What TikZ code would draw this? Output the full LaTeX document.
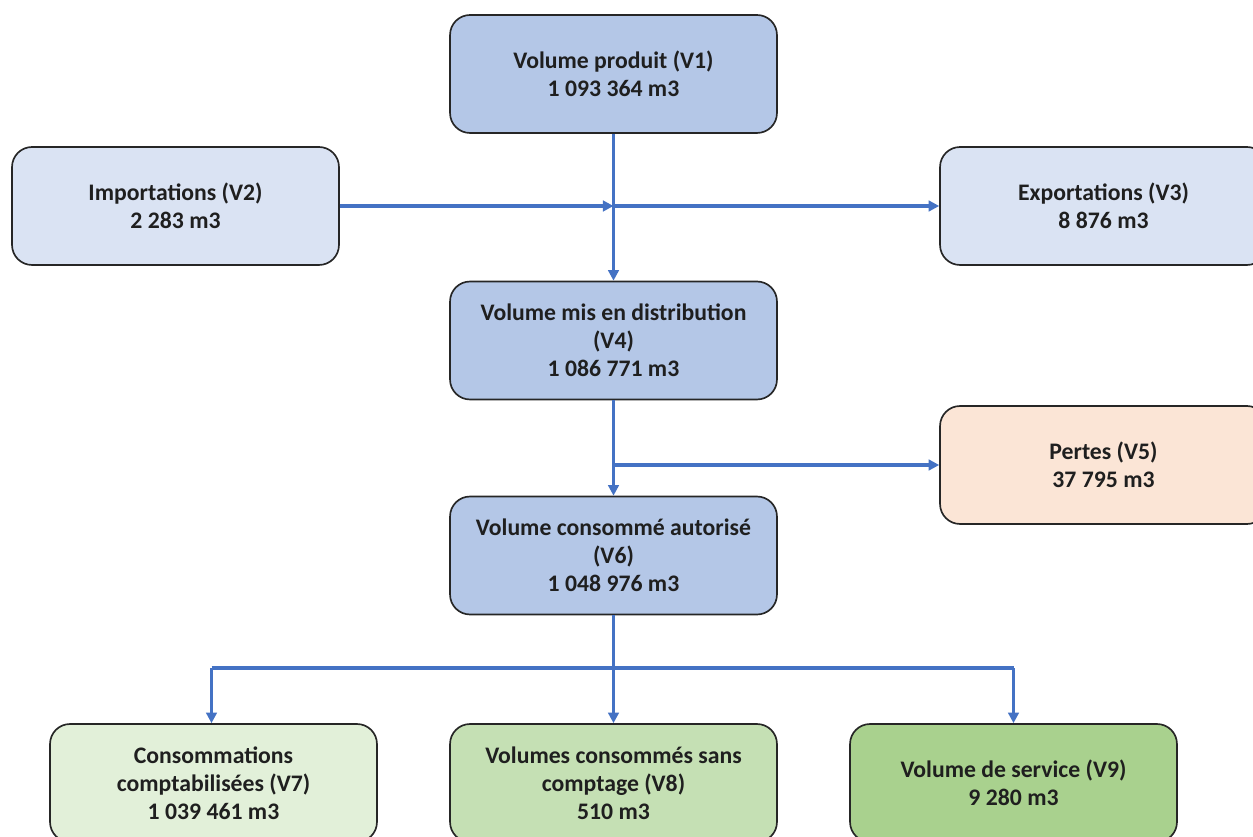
\documentclass[tikz,border=0pt]{standalone}
\usepackage{fontspec}
\setmainfont{Carlito}
\usetikzlibrary{arrows.meta}
\definecolor{bluedark}{HTML}{B4C7E7}
\definecolor{bluelight}{HTML}{DAE3F3}
\definecolor{peach}{HTML}{FBE5D6}
\definecolor{greenA}{HTML}{E2F0D9}
\definecolor{greenB}{HTML}{C5E0B4}
\definecolor{greenC}{HTML}{A9D18E}
\definecolor{arrowblue}{HTML}{4472C4}
\definecolor{edgegray}{HTML}{262626}
\tikzset{
  box/.style={draw=edgegray, line width=0.95pt, rounded corners=0.4cm,
    minimum width=6.54cm, minimum height=2.36cm, align=center,
    text=black!88, font=\fontsize{13.5}{15.9}\selectfont\bfseries, inner sep=0pt},
  flow/.style={draw=arrowblue, line width=1.9pt, -{Triangle[length=6pt,width=6pt]}},
  plain/.style={draw=arrowblue, line width=1.9pt}
}
\begin{document}
\begin{tikzpicture}[x=0.02cm,y=-0.02cm]
\useasboundingbox (0,0) rectangle (1253,837);
\fill[white] (0,0) rectangle (1253,837);
\node[box, fill=bluedark] (v1) at (613.5,74) {Volume produit (V1)\\1 093 364 m3};
\node[box, fill=bluelight] (v2) at (175.5,206) {Importations (V2)\\2 283 m3};
\node[box, fill=bluelight] (v3) at (1103.5,206) {Exportations (V3)\\8 876 m3};
\node[box, fill=bluedark] (v4) at (613.5,340.5) {Volume mis en distribution\\(V4)\\1 086 771 m3};
\node[box, fill=peach] (v5) at (1103.5,465) {Pertes (V5)\\37 795 m3};
\node[box, fill=bluedark] (v6) at (613.5,555.5) {Volume consommé autorisé\\(V6)\\1 048 976 m3};
\node[box, fill=greenA] (v7) at (213.5,783) {Consommations\\comptabilisées (V7)\\1 039 461 m3};
\node[box, fill=greenB] (v8) at (613.5,783) {Volumes consommés sans\\comptage (V8)\\510 m3};
\node[box, fill=greenC] (v9) at (1013.5,783) {Volume de service (V9)\\9 280 m3};
\coordinate (j1) at (613.5,206);
\coordinate (j2) at (613.5,465);
\coordinate (j7) at (211.5,668);
\coordinate (j9) at (1013.5,668);
\draw[flow] (v1) -- (v4);
\draw[flow] (v2) -- (j1);
\draw[flow] (j1) -- (v3);
\draw[flow] (v4) -- (v6);
\draw[flow] (j2) -- (v5);
\draw[flow] (v6) -- (v8);
\draw[plain] (j7) -- (j9);
\draw[flow] (j7) -- (j7 |- v7.north);
\draw[flow] (j9) -- (v9);
\end{tikzpicture}
\end{document}
